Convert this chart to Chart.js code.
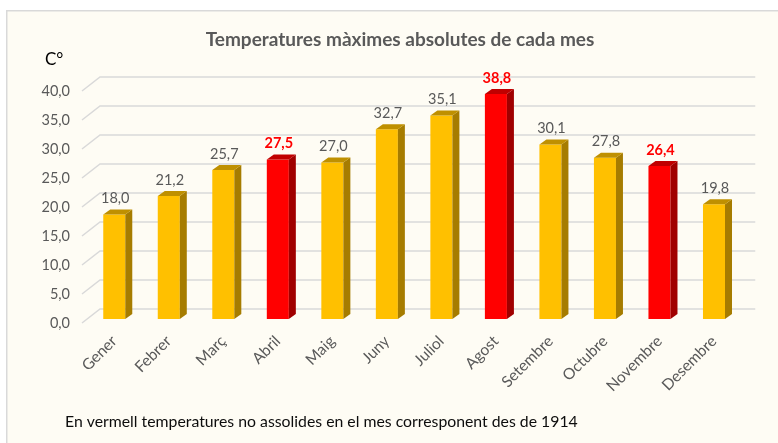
<!DOCTYPE html>
<html>
<head>
<meta charset="utf-8">
<script src="https://cdn.jsdelivr.net/npm/chart.js@4.4.0/dist/chart.umd.min.js"></script>
<style>
  html, body { margin: 0; padding: 0; background: #ffffff; }
  canvas { display: block; }
</style>
</head>
<body>
<canvas id="c" width="778" height="443"></canvas>
<script>
// ---- data ----
const months = ['Gener','Febrer','Març','Abril','Maig','Juny','Juliol','Agost','Setembre','Octubre','Novembre','Desembre'];
const tmax = [18.0, 21.2, 25.7, 27.5, 27.0, 32.7, 35.1, 38.8, 30.1, 27.8, 26.4, 19.8];
const notReached = [false, false, false, true, false, false, false, true, false, false, true, false];
const yTicks = [0, 5, 10, 15, 20, 25, 30, 35, 40];
const titleText = 'Temperatures màximes absolutes de cada mes';
const unitText = 'C°';
const noteText = 'En vermell temperatures no assolides en el mes corresponent des de 1914';

// ---- styles ----
const FONT = 'Lato, "Open Sans", sans-serif';
const GRAY = '#595959';
const GRID = '#d9d9d9';
const DX = 7, DY = 5;          // bar depth
const GX = 18, GY = 14;        // wall depth for gridlines
const fmt = v => v.toFixed(1).replace('.', ',');

const frontCol = f => f ? '#ff0000' : '#ffc000';
const sideCol  = f => f ? '#a00000' : '#a67c00';
const topCol   = f => f ? '#c00000' : '#bf9000';

const decor = {
  id: 'decor',
  beforeDraw(chart) {
    const ctx = chart.ctx;
    ctx.save();
    ctx.fillStyle = '#ffffff';
    ctx.fillRect(0, 0, chart.width, chart.height);
    ctx.fillStyle = '#fefcf4';
    ctx.fillRect(7, 11, chart.width, chart.height);
    ctx.strokeStyle = '#d9d9d9';
    ctx.lineWidth = 1.5;
    ctx.beginPath();
    ctx.moveTo(6.75, chart.height + 5);
    ctx.lineTo(6.75, 10.75);
    ctx.lineTo(chart.width + 5, 10.75);
    ctx.stroke();
    // title, unit, note
    ctx.fillStyle = GRAY;
    ctx.font = 'bold 19px ' + FONT;
    ctx.textAlign = 'center';
    ctx.textBaseline = 'middle';
    ctx.fillText(titleText, 400, 40);
    ctx.fillStyle = '#000000';
    ctx.font = '17px ' + FONT;
    ctx.textAlign = 'left';
    ctx.fillText(unitText, 45, 60);
    ctx.font = '15.8px ' + FONT;
    ctx.fillStyle = '#0d0d0d';
    ctx.fillText(noteText, 65, 422);
    ctx.restore();
  },
  beforeDatasetsDraw(chart) {
    const ctx = chart.ctx;
    const ys = chart.scales.y;
    const area = chart.chartArea;
    ctx.save();
    ctx.strokeStyle = GRID;
    ctx.lineWidth = 1.5;
    yTicks.forEach(v => {
      const py = ys.getPixelForValue(v);
      ctx.beginPath();
      ctx.moveTo(area.left - 5, py + 4);
      ctx.lineTo(area.left - 5 + GX, py + 4 - GY);
      ctx.lineTo(area.right + 14, py + 4 - GY);
      ctx.stroke();
    });
    ctx.restore();
  },
  afterDatasetsDraw(chart) {
    const ctx = chart.ctx;
    const meta = chart.getDatasetMeta(0);
    ctx.save();
    meta.data.forEach((bar, i) => {
      const f = notReached[i];
      const w = bar.width;
      const l = bar.x - w / 2, r = bar.x + w / 2;
      const t = bar.y, b = bar.base;
      ctx.fillStyle = sideCol(f);
      ctx.beginPath();
      ctx.moveTo(r, t); ctx.lineTo(r + DX, t - DY); ctx.lineTo(r + DX, b - DY); ctx.lineTo(r, b);
      ctx.closePath(); ctx.fill();
      ctx.fillStyle = topCol(f);
      ctx.beginPath();
      ctx.moveTo(l, t); ctx.lineTo(l + DX, t - DY); ctx.lineTo(r + DX, t - DY); ctx.lineTo(r, t);
      ctx.closePath(); ctx.fill();
      // value label
      ctx.textAlign = 'center';
      ctx.textBaseline = 'middle';
      ctx.font = (f ? 'bold ' : '') + '14.5px ' + FONT;
      ctx.fillStyle = f ? '#ff0000' : GRAY;
      ctx.fillText(fmt(tmax[i]), bar.x + 1, t - 16);
    });
    ctx.restore();
  }
};

new Chart(document.getElementById('c'), {
  type: 'bar',
  data: {
    labels: months,
    datasets: [{
      data: tmax,
      backgroundColor: notReached.map(frontCol),
      borderWidth: 0,
      barPercentage: 0.404,
      categoryPercentage: 1.0
    }]
  },
  options: {
    responsive: false,
    devicePixelRatio: 1,
    animation: false,
    events: [],
    layout: { padding: { left: 40, right: 36.75, top: 87, bottom: 44 } },
    plugins: { legend: { display: false }, title: { display: false }, tooltip: { enabled: false } },
    scales: {
      x: {
        offset: true,
        grid: { display: false, drawTicks: false },
        border: { display: false },
        ticks: {
          color: GRAY,
          font: { family: FONT, size: 15.5 },
          minRotation: 45, maxRotation: 45,
          padding: 13,
          autoSkip: false
        },
        afterFit: s => { s.height = 80; s.paddingLeft = 0; s.paddingRight = 0; }
      },
      y: {
        min: 0, max: 40,
        afterBuildTicks: s => { s.ticks = yTicks.map(v => ({ value: v })); },
        grid: { display: false, drawTicks: false },
        border: { display: false },
        ticks: {
          color: GRAY,
          font: { family: FONT, size: 14.5 },
          padding: 17,
          labelOffset: 4,
          callback: v => fmt(v)
        },
        afterFit: s => { s.width = 47; s.paddingTop = 0; s.paddingBottom = 0; }
      }
    }
  },
  plugins: [decor]
});
</script>
</body>
</html>
